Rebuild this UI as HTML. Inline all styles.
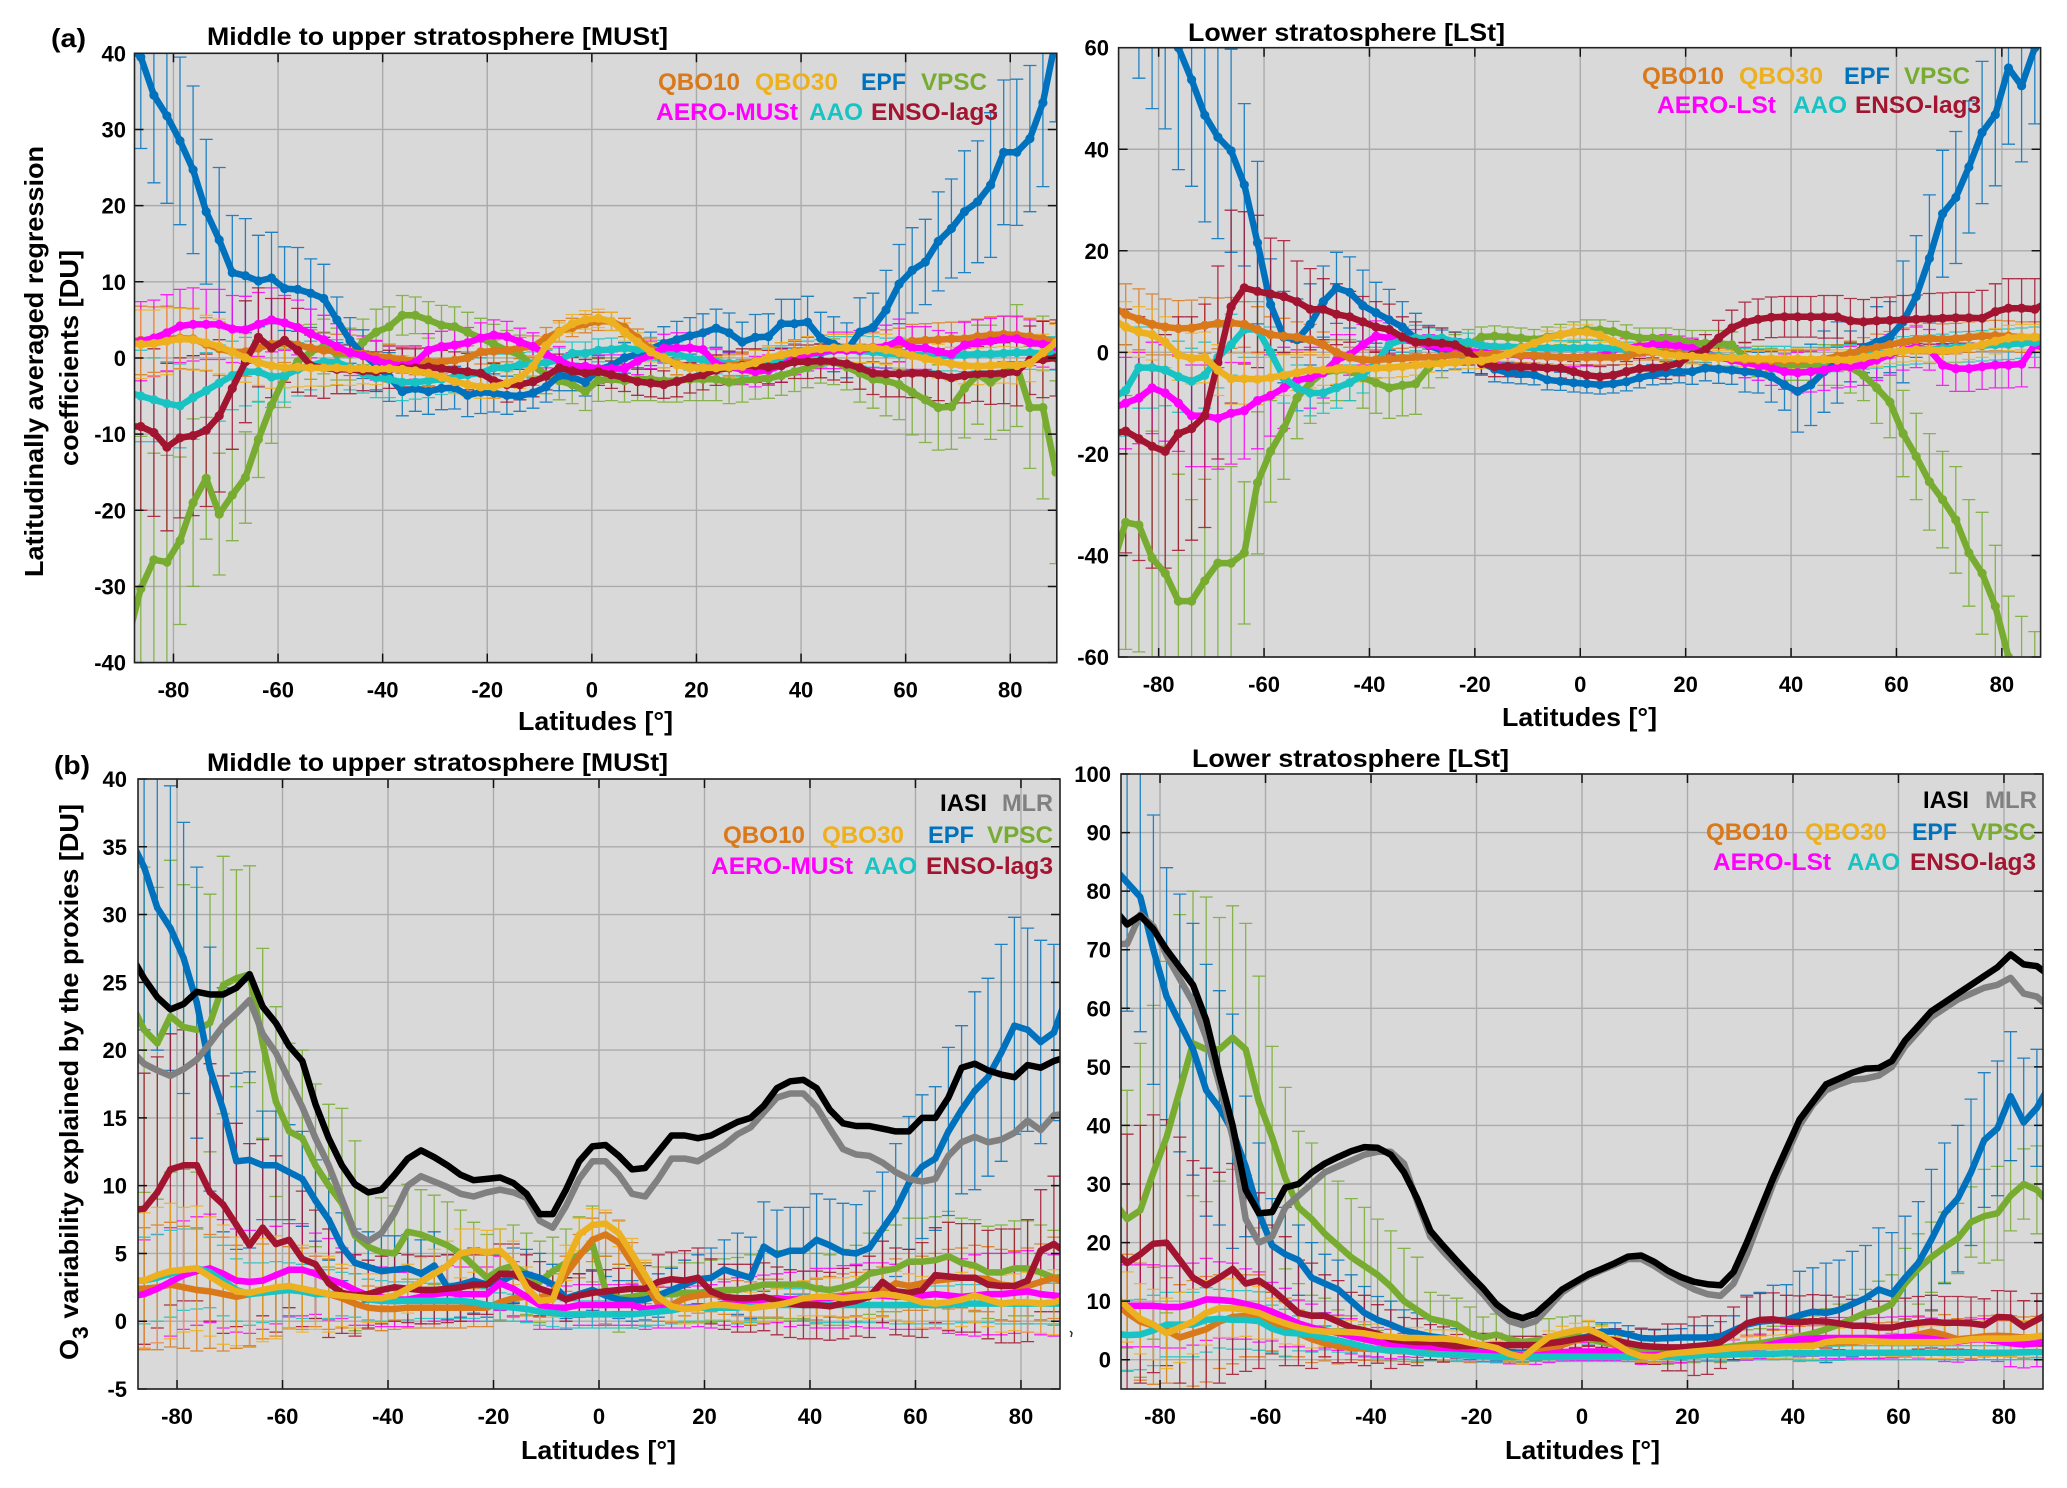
<!DOCTYPE html>
<html><head><meta charset="utf-8"><title>Ozone proxies</title>
<style>
html,body{margin:0;padding:0;background:#fff}
svg{display:block}
text{font-family:"Liberation Sans",Arial,sans-serif;font-weight:bold;fill:#000}
.tt{font-size:25px}.lb{font-size:26px}.lg{font-size:24px}.tk{font-size:22px}
</style></head><body>
<svg id="fig" xmlns="http://www.w3.org/2000/svg" width="2067" height="1488" viewBox="0 0 2067 1488">
<rect width="2067" height="1488" fill="#fff"/>
<g id="plots"></g>
<path d="M1070 1331l2 2l-1 4" fill="none" stroke="#333" stroke-width="1.5"/>
<g>
<text class="lb" x="51" y="47" textLength="35" lengthAdjust="spacingAndGlyphs">(a)</text>
<text class="lb" x="54" y="774" textLength="36" lengthAdjust="spacingAndGlyphs">(b)</text>
<text class="tt" x="207" y="45" textLength="461" lengthAdjust="spacingAndGlyphs">Middle to upper stratosphere [MUSt]</text>
<text class="tt" x="1188" y="41" textLength="317" lengthAdjust="spacingAndGlyphs">Lower stratosphere [LSt]</text>
<text class="tt" x="207" y="771" textLength="461" lengthAdjust="spacingAndGlyphs">Middle to upper stratosphere [MUSt]</text>
<text class="tt" x="1192" y="767" textLength="317" lengthAdjust="spacingAndGlyphs">Lower stratosphere [LSt]</text>
<text class="lb" x="518" y="730" textLength="155" lengthAdjust="spacingAndGlyphs">Latitudes [°]</text>
<text class="lb" x="1502" y="726" textLength="155" lengthAdjust="spacingAndGlyphs">Latitudes [°]</text>
<text class="lb" x="521" y="1459" textLength="155" lengthAdjust="spacingAndGlyphs">Latitudes [°]</text>
<text class="lb" x="1505" y="1459" textLength="155" lengthAdjust="spacingAndGlyphs">Latitudes [°]</text>
<text class="lb" transform="translate(43,577) rotate(-90)" textLength="431" lengthAdjust="spacingAndGlyphs">Latitudinally averaged regression</text>
<text class="lb" transform="translate(78,466) rotate(-90)" textLength="216" lengthAdjust="spacingAndGlyphs">coefficients [DU]</text>
<text class="lb" transform="translate(78,1360) rotate(-90)" textLength="556" lengthAdjust="spacingAndGlyphs">O<tspan dy="10" font-size="22">3</tspan><tspan dy="-10"> variability explained by the proxies [DU]</tspan></text>
</g>
<g>
<text class="lg" style="fill:#D9791A" x="658" y="90" textLength="82" lengthAdjust="spacingAndGlyphs">QBO10</text>
<text class="lg" style="fill:#EDB120" x="755" y="90" textLength="83" lengthAdjust="spacingAndGlyphs">QBO30</text>
<text class="lg" style="fill:#0072BD" x="861" y="90" textLength="45" lengthAdjust="spacingAndGlyphs">EPF</text>
<text class="lg" style="fill:#77AC30" x="921" y="90" textLength="66" lengthAdjust="spacingAndGlyphs">VPSC</text>
<text class="lg" style="fill:#FF00FF" x="656" y="120" textLength="142" lengthAdjust="spacingAndGlyphs">AERO-MUSt</text>
<text class="lg" style="fill:#17C3C3" x="809" y="120" textLength="54" lengthAdjust="spacingAndGlyphs">AAO</text>
<text class="lg" style="fill:#A2142F" x="871" y="120" textLength="127" lengthAdjust="spacingAndGlyphs">ENSO-lag3</text>
</g>
<g>
<text class="lg" style="fill:#D9791A" x="1642" y="84" textLength="82" lengthAdjust="spacingAndGlyphs">QBO10</text>
<text class="lg" style="fill:#EDB120" x="1739" y="84" textLength="84" lengthAdjust="spacingAndGlyphs">QBO30</text>
<text class="lg" style="fill:#0072BD" x="1844" y="84" textLength="46" lengthAdjust="spacingAndGlyphs">EPF</text>
<text class="lg" style="fill:#77AC30" x="1904" y="84" textLength="66" lengthAdjust="spacingAndGlyphs">VPSC</text>
<text class="lg" style="fill:#FF00FF" x="1657" y="113" textLength="119" lengthAdjust="spacingAndGlyphs">AERO-LSt</text>
<text class="lg" style="fill:#17C3C3" x="1793" y="113" textLength="54" lengthAdjust="spacingAndGlyphs">AAO</text>
<text class="lg" style="fill:#A2142F" x="1855" y="113" textLength="126" lengthAdjust="spacingAndGlyphs">ENSO-lag3</text>
</g>
<g>
<text class="lg" style="fill:#000" x="940" y="811" textLength="47" lengthAdjust="spacingAndGlyphs">IASI</text>
<text class="lg" style="fill:#808080" x="1002" y="811" textLength="51" lengthAdjust="spacingAndGlyphs">MLR</text>
<text class="lg" style="fill:#D9791A" x="723" y="843" textLength="82" lengthAdjust="spacingAndGlyphs">QBO10</text>
<text class="lg" style="fill:#EDB120" x="822" y="843" textLength="82" lengthAdjust="spacingAndGlyphs">QBO30</text>
<text class="lg" style="fill:#0072BD" x="928" y="843" textLength="46" lengthAdjust="spacingAndGlyphs">EPF</text>
<text class="lg" style="fill:#77AC30" x="987" y="843" textLength="66" lengthAdjust="spacingAndGlyphs">VPSC</text>
<text class="lg" style="fill:#FF00FF" x="711" y="874" textLength="142" lengthAdjust="spacingAndGlyphs">AERO-MUSt</text>
<text class="lg" style="fill:#17C3C3" x="864" y="874" textLength="53" lengthAdjust="spacingAndGlyphs">AAO</text>
<text class="lg" style="fill:#A2142F" x="926" y="874" textLength="127" lengthAdjust="spacingAndGlyphs">ENSO-lag3</text>
</g>
<g>
<text class="lg" style="fill:#000" x="1923" y="808" textLength="46" lengthAdjust="spacingAndGlyphs">IASI</text>
<text class="lg" style="fill:#808080" x="1985" y="808" textLength="52" lengthAdjust="spacingAndGlyphs">MLR</text>
<text class="lg" style="fill:#D9791A" x="1706" y="840" textLength="82" lengthAdjust="spacingAndGlyphs">QBO10</text>
<text class="lg" style="fill:#EDB120" x="1805" y="840" textLength="82" lengthAdjust="spacingAndGlyphs">QBO30</text>
<text class="lg" style="fill:#0072BD" x="1912" y="840" textLength="45" lengthAdjust="spacingAndGlyphs">EPF</text>
<text class="lg" style="fill:#77AC30" x="1971" y="840" textLength="65" lengthAdjust="spacingAndGlyphs">VPSC</text>
<text class="lg" style="fill:#FF00FF" x="1713" y="870" textLength="118" lengthAdjust="spacingAndGlyphs">AERO-LSt</text>
<text class="lg" style="fill:#17C3C3" x="1847" y="870" textLength="53" lengthAdjust="spacingAndGlyphs">AAO</text>
<text class="lg" style="fill:#A2142F" x="1910" y="870" textLength="126" lengthAdjust="spacingAndGlyphs">ENSO-lag3</text>
</g>
</svg>
<script>
// Band centres, 2.5 degree spacing (-88.75 ... 88.75): 72 bands per series.
const latitudes=[-88.75,-86.25,-83.75,-81.25,-78.75,-76.25,-73.75,-71.25,-68.75,-66.25,-63.75,-61.25,-58.75,-56.25,-53.75,-51.25,-48.75,-46.25,-43.75,-41.25,-38.75,-36.25,-33.75,-31.25,-28.75,-26.25,-23.75,-21.25,-18.75,-16.25,-13.75,-11.25,-8.75,-6.25,-3.75,-1.25,1.25,3.75,6.25,8.75,11.25,13.75,16.25,18.75,21.25,23.75,26.25,28.75,31.25,33.75,36.25,38.75,41.25,43.75,46.25,48.75,51.25,53.75,56.25,58.75,61.25,63.75,66.25,68.75,71.25,73.75,76.25,78.75,81.25,83.75,86.25,88.75];
const xTickLabels=[-80,-60,-40,-20,0,20,40,60,80];
const coefMuTicks=[-40,-30,-20,-10,0,10,20,30,40];
const coefLsTicks=[-60,-40,-20,0,20,40,60];
const varMuTicks=[-5,0,5,10,15,20,25,30,35,40];
const varLsTicks=[0,10,20,30,40,50,60,70,80,90,100];

// (a) left: regression coefficients, MUSt. The *Err arrays hold one half-width per pair of adjacent bands.
const coefMuEpf=[41,39.5,34.5,31.8,28.5,24.7, 19.2,15.5,11.2,10.8,10.1,10.5, 9.1,9,8.5,7.8,5,2.3, 0.5,-1,-2.5,-4.4,-4,-4.4, -4,-3.9,-4.9,-4.5,-4.6,-4.9, -5,-4.6,-3.8,-2.3,-2.5,-3.2, -1.5,-1,0,0.5,1.2,1.9, 2.4,2.9,3.3,3.9,3.3,2.1, 2.7,2.8,4.5,4.5,4.7,2.6, 1.8,1,3.4,4,6.3,9.7, 11.5,12.6,15.3,17,19.2,20.5, 22.7,27,27,28.8,33.5,42];
const coefMuEpfErr=[12,11.5,11,9.5,7.5,6,5.5,4.5,3,3.2,3.2,3,2.8,2.8,2.5,2,2,1.8,1.8,2,2.2,2.4,2.5,2.6,3,3.2,3.4,3.6,4.5,5.2,5.6,6.5,8,9.5,9.6,11];
const coefMuVpsc=[-37,-30.3,-26.5,-26.8,-24,-19, -15.8,-20.5,-18,-15.7,-10.7,-6.2, -2.5,-0.5,0.8,1.5,0.5,0.5, 2.1,3.4,4.1,5.6,5.6,5, 4.3,4.1,3.4,2.6,1.8,1, 0.4,-1,-2.2,-3,-3.5,-4.4, -2.9,-2.8,-3,-2.8,-2.8,-3, -3,-2.8,-2.8,-2.8,-3.2,-3, -2.8,-2.7,-2.3,-1.8,-1.3,-0.7, -0.5,-1.2,-2,-2.8,-3,-3.5, -4.5,-5.5,-6.5,-6.4,-4,-2.2, -3.2,-2,-1,-6.5,-6.5,-15];
const coefMuVpscErr=[20,14,11,8,6,5,4,3.6,3.4,3,2.6,2.4,2.6,2.6,2.6,2.6,2.5,2.5,2.8,2.8,2.8,2.8,2.8,2.8,2.6,2.6,2.6,3,3.8,4.6,5.6,5.6,6.5,7.5,8,12];
const coefMuAero=[2,2.2,2.6,3.3,4.2,4.4, 4.4,4.4,3.8,3.7,4.4,5, 4.6,4,3.2,2.4,1.5,0.7, 0.3,-0.3,-0.8,-1,-0.6,1, 1.5,1.7,2,2.6,3,2.8, 2.1,1.5,0.5,-0.3,-1.1,-1.1, -1.4,-1.4,-1.4,-0.4,0.4,1.3, 1.3,1.3,1.1,-0.8,-1.2,-1.5, -1.8,-1.6,-1,0,0.5,0.8, 1,1,1,1.3,1.5,2.3, 1.3,1.3,0.8,0.5,1.7,2, 2.2,2.5,2.5,2,1.8,1.5];
const coefMuAeroErr=[5.2,5,4.8,4.6,4.4,4.2,3.6,3.2,3,2.6,2.4,2.2,2,2,2,1.8,1.8,1.8,1.8,1.8,1.8,2,2,2,2,2.2,2.2,2.4,2.6,2.8,2.8,2.8,3,3,3,3];
const coefMuAao=[-4.5,-5,-5.5,-6,-6.3,-5.2, -4.3,-3.3,-2.3,-1.8,-1.8,-2.5, -2.3,-1.5,-1,-0.5,-0.6,-1.2, -2,-2.6,-2.8,-3.2,-3.2,-3, -2.8,-2.5,-2.2,-2,-1.3,-1.3, -0.9,-0.8,-0.6,-0.3,0.6,0.6, 1,1.1,1.3,1.1,1.2,0.8, 0.5,0,-0.3,-0.5,-0.7,-0.8, -0.8,-0.5,-0.2,0.1,0.4,0.6, 1,1,0.9,0.8,0.6,0.5, 0.4,0.4,0.3,0.3,0.4,0.5, 0.5,0.6,0.7,0.7,0.6,0.6];
const coefMuAaoErr=[6,5.5,5.5,5,4.5,4,3.5,3.2,3,2.6,2.4,2.2,2,2,1.8,1.6,1.6,1.5,1.5,1.5,1.5,1.6,1.6,1.6,1.8,1.8,1.8,1.8,2,2,2,2,2.2,2.2,2.2,2.2];
const coefMuEnso=[-9,-9,-9.8,-11.7,-10.5,-10.2, -9.5,-7.6,-4,-0.5,2.7,1.3, 2.3,1,-1,-1.3,-1.5,-1.5, -1.7,-1.8,-1.5,-1.3,-1.3,-1.2, -1.4,-1.6,-1.8,-2,-3,-3.5, -3.5,-3.1,-2.4,-1.3,-1.7,-2, -1.8,-2.2,-2.6,-3.1,-3.3,-3.5, -3.1,-2.6,-2.2,-1.6,-1.3,-1, -1,-1.2,-1,-0.5,-0.5,-0.4, -0.5,-0.8,-1.3,-2,-2.1,-2.1, -2,-2,-2.2,-2.6,-2.3,-2.1, -2.1,-2,-1.8,-0.3,-0.2,0];
const coefMuEnsoErr=[11,11,10.5,10,8,6.5,5.5,4,3.2,2.6,2.5,2.5,2.4,2.4,2.3,2,1.8,1.8,1.8,1.8,1.8,2,2,2.2,2.2,2.2,2.2,2.4,2.8,3,3.2,3.4,3.6,4,4.5,5];
const coefMuQbo10=[2.2,2.3,2.4,2.5,2.6,2.5, 1.8,1.2,0.8,0.8,1.3,1.8, 2,1.7,1.3,1,0.9,0.8, 0.5,0.2,0,-0.2,-0.4,-0.5, -0.5,-0.3,0,0.8,0.9,1, 1.3,1.5,2.6,3.5,4,4.5, 4.8,4.8,4,2.6,1.2,0, -0.8,-1.2,-1.3,-1.2,-1,-0.8, -0.5,0,0.4,0.8,1,1.2, 1.3,1.3,1.3,1.4,1.5,1.7, 2.2,2.3,2.4,2.5,2.5,2.8, 3,3.1,3,2.8,2.5,2.2];
const coefMuQbo10Err=[4.5,4.3,4,3.5,3.2,3,2.6,2.4,2.2,2,1.8,1.8,1.6,1.6,1.5,1.4,1.4,1.2,1.2,1.2,1.3,1.4,1.5,1.5,1.6,1.6,1.8,1.8,2,2.2,2.2,2.2,2.3,2.4,2.4,2.4];
const coefMuQbo30=[2,1.8,1.9,2.2,2.5,2.4, 2,1.5,0.8,0,-0.6,-1, -1.3,-1.2,-1.3,-1.3,-1.3,-1.4, -1.4,-1.5,-1.4,-1.5,-1.7,-2, -2.5,-3.1,-3.5,-3.8,-3.8,-3.3, -2.6,-1.1,1.6,3.4,4.5,5, 5.2,4.8,3.4,2.1,0.8,0, -0.9,-1.3,-1.3,-1.3,-1.2,-1.1, -0.6,0,0.4,0.7,1,1.2, 1.3,1.3,1.3,1.3,1.1,0.7, 0.3,-0.1,-0.4,-0.8,-1,-1.1, -1,-0.9,-1,-0.7,0.7,2];
const coefMuQbo30Err=[4.5,4.4,4,3.6,3.2,3,2.6,2.4,2.2,2,1.8,1.8,1.6,1.5,1.5,1.4,1.2,1.2,1.2,1.2,1.3,1.4,1.5,1.5,1.6,1.6,1.8,1.8,1.9,2,2.2,2.2,2.4,2.4,2.4,2.4];

// (a) right: regression coefficients, LSt
const coefLsEpf=[95,85,78,72,68,60, 53.7,46.7,42.4,39.7,33,21.6, 9.4,3,2.5,5.5,10,12.7, 11.8,9.2,7.8,6.4,5,2.7, 1.3,0.4,-0.3,-1,-2,-3.3, -4,-4.2,-4.4,-5.4,-5.7,-6, -6.2,-6.4,-6.2,-5.8,-5,-4.4, -4,-3.8,-3.8,-3.1,-3.3,-3.5, -3.8,-4,-4.8,-6.4,-7.7,-6.4, -3.8,-2,-0.8,1,2,3, 6,11,18.5,27.3,30.5,36.5, 43.3,46.8,56,52.5,60,65];
const coefLsEpfErr=[25,24,24,21,20,16,9,8,7,7,6,5,4,3,2.5,2,2,1.8,1.8,1.8,2,2.2,2.5,2.8,4,5,8,8,5,7,12,12.5,13,14,15,15];
const coefLsVpsc=[-42,-33.5,-34,-40.5,-43.5,-49, -49,-45,-41.5,-41.5,-39.5,-25.7, -19.5,-15,-9,-6,-4,-3.5, -3.5,-5,-6,-7,-6.5,-6.2, -3,-1,0.5,1.5,3,3.2, 3,2.8,2.5,3,3.5,4, 4.4,4.4,4.1,3.4,2.8,2.8, 2.8,2.5,1.8,1.8,1.8,1.5, -1,-1.8,-2.2,-2.5,-2.5,-2.5, -2.5,-2.5,-3,-4.5,-7,-9.8, -16,-20.5,-25.5,-29,-33,-39.5, -43.5,-50,-60,-64,-70,-75];
const coefLsVpscErr=[25,25,25,20,19,14,10,8,6,6,6,6,4,3,2,2,2,2,2,2,2,2,2.5,2.5,3,3,3,4,5,7,8.5,9.5,10.5,12,12,15];
const coefLsAero=[-11,-10,-9,-7,-8,-10, -12.5,-12.5,-13,-12,-11.5,-9.5, -8.5,-7,-5.5,-5,-4,-1.5, -0.5,1.5,3.2,2.8,2.5,2, 1.5,1,0.5,0.2,0,-0.2, -0.4,-0.6,-0.7,-0.8,-1,-1, -0.9,-0.8,0.5,1,1.1,1.5, 1.5,1.2,0.8,0,-1,-1.5, -2,-2.5,-3,-3.8,-4,-3.8, -3.5,-3,-2.8,-2.5,-1.5,-0.5, 0.5,1,0.5,-2.5,-3.2,-3.2, -2.8,-2.5,-2.5,-2.3,1.5,0.5];
const coefLsAeroErr=[9,9,9.5,10,10,9.5,8,6,5,4,3,2.5,2,2,1.8,1.8,1.8,1.8,1.8,1.8,1.8,2,2,2.5,3,3.5,4,4,4,4,4,4,4.5,4.5,4.5,4.5];
const coefLsAao=[-9,-7.5,-3,-3,-3.5,-4.8, -5.7,-4.5,-1,1.5,4.5,4.5, 0,-5,-7,-8,-8,-7, -6,-4.5,-2,1.5,2.5,2.8, 2.8,2.8,2.1,2,1.4,1.1, 1.1,1,0.9,0.8,0.8,0.8, 0.9,0.9,0.8,0.5,0.3,0.1, 0,-0.2,-0.4,-0.5,-0.8,-1, -1.2,-1.3,-1.3,-1.3,-1.5,-1.5, -1.5,-1.3,-1,-0.8,-0.3,0, 0.3,0.5,0.6,0.8,1,1.1, 1.3,1.5,1.6,1.8,2,2];
const coefLsAaoErr=[9,8,7,6.5,6,5.5,5,4.5,4,3.5,3,2.5,2,1.8,1.5,1.5,1.5,1.5,1.5,1.5,1.5,1.5,1.5,1.8,2,2.5,2.5,2.5,2.5,2.8,2.8,2.8,3,3,3,3];
const coefLsEnso=[-16,-15.5,-17,-18.5,-19.5,-16, -15,-12.5,-2,9,12.7,12, 11.5,11,10,8.5,8.5,7.5, 7,6,5,4.5,3,2, 2,1.8,1.5,0,-2.2,-2.8, -2.8,-2.9,-2.9,-3.1,-3.1,-3.8, -4.5,-4.8,-4.5,-3.8,-3.2,-3.1, -2.8,-2.1,-0.5,0.5,2.8,4.8, 5.9,6.5,6.9,7,7,7, 7,7,6.2,6,6.2,6.3, 6.4,6.5,6.6,6.7,6.8,6.8, 6.7,8,8.7,8.7,8.5,10];
const coefLsEnsoErr=[24,24,23,22,19,15,11,8,6,5,5,4,3,2.5,2,2,2,2,2,2,2,2.5,3,3.5,4,4,4,4.2,4.4,4.6,4.8,5,5,5.5,5.8,6];
const coefLsQbo10=[9,7.5,6.5,5.5,5,4.7, 4.8,5.3,5.7,5.8,5.5,4.5, 3.5,3.2,3,2.5,1.5,0, -1,-1.5,-1.5,-1.3,-1.2,-1, -1,-0.8,-0.5,-0.5,-0.4,-0.3, -0.3,-0.5,-0.6,-0.8,-1,-1, -1,-1,-1,-0.9,0,0, 0,-0.3,-0.5,-0.8,-1,-1.2, -1.4,-1.5,-1.6,-1.6,-1.6,-1.5, -1.3,-0.8,-0.2,0.5,1,1.5, 2,2.5,2.7,2.6,2.7,3, 3.2,3.3,3.2,3,3,3];
const coefLsQbo10Err=[6,6,5.5,5.5,5,4.5,3.5,3,2.5,2,2,2,1.6,1.6,1.5,1.5,1.5,1.5,1.5,1.5,1.5,1.5,1.6,1.8,1.8,2,2,2.2,2.4,2.6,2.8,3,3,3,3,3];
const coefLsQbo30=[6.5,5,4,3.5,2,-0.5, -1.2,-1,-3.5,-5.2,-5.2,-5.3, -5,-4.5,-4,-3.5,-3.5,-3.3, -3.3,-3.3,-3.1,-3,-2.8,-2.5, -2.3,-2.2,-2,-1.7,-1.7,-1.2, -0.3,0.8,1.8,2.8,3.5,4, 4,3.4,2.1,1.1,0.5,0.2, -0.5,-0.7,-0.8,-1,-1.1,-1.1, -1.2,-1.3,-1.3,-1.3,-1.3,-1.4, -1.4,-1.5,-1.5,-1,-0.5,0, 0.3,0.5,0.5,0.3,0.5,1, 1.5,2.2,2.8,3,3,2.8];
const coefLsQbo30Err=[5,5,5,5,5,5,4,3.5,3,2.5,2,2,1.6,1.5,1.5,1.5,1.4,1.4,1.4,1.5,1.5,1.5,1.5,1.5,1.6,1.8,2,2,2,2.2,2.2,2.4,2.4,2.5,2.5,2.5];

// (b) left: explained variability, MUSt
const varMuEpf=[35.5,33.5,30.5,29,26.8,23.5, 18.6,15.6,11.8,11.9,11.5,11.5, 11,10.5,8.9,7.5,5.5,4.3, 4,3.7,3.8,3.9,3.5,4.1, 2.5,2.7,3,2.7,2.9,3.4, 3.5,3.2,2.7,1.7,2,2.3, 1.9,1.6,1.5,1.6,1.9,2.3, 2.7,3.1,3.2,3.8,3.5,3.2, 5.5,4.9,5.2,5.2,6,5.6, 5.1,5,5.4,6.8,8.2,10.2, 11.4,12,14,15.6,17,18, 19.8,21.8,21.5,20.6,21.3,24];
const varMuEpfErr=[12,10.5,10,9,6.5,4,3.5,3,2.5,2.6,2.5,2.5,2.4,2.4,2,1.8,1.5,1.5,1.4,1.5,1.6,1.8,2.2,3,3.3,3.2,3.4,3.6,4.2,4.9,5.3,6.2,7.3,8,7.5,6.5];
const varMuVpsc=[23.5,21.5,20.5,22.5,21.7,21.5, 22,24.8,25.3,25.6,20.5,16.2, 14,13.5,11.5,10,8.7,6.3, 5.5,5.1,5,6.6,6.4,6, 5.6,5,4.1,3.2,3.8,4.1, 3.5,2.9,3.7,4.3,4.9,5.7, 2.3,1.7,1.8,2,2,2, 2.1,2.1,2.2,2.3,2.3,2.5, 2.7,2.7,2.7,2.7,2.4,2.3, 2.5,2.8,3.5,3.7,3.9,4.4, 4.4,4.5,4.8,4.3,4.1,3.6, 3.6,3.9,3.9,3.6,3.2,3.3];
const varMuVpscErr=[12,11.5,10.5,9.5,8,7,6.5,6,7,4,3.5,3.3,3.2,3.2,3,3,2.5,2.8,2.5,2.3,2,2.2,2.3,2.4,2.5,2.5,2.6,2.8,3,3.2,3.2,3.3,3.4,3.5,3.5,3.5];
const varMuAero=[1.8,2,2.4,2.9,3.4,3.7, 3.9,3.5,3,2.9,3,3.4, 3.8,3.8,3.5,3.1,2.8,2.3, 1.9,1.8,1.6,1.6,1.8,2, 2.1,2,2,2,2.8,2.4, 1.8,1.2,1,1,1.2,1.2, 1.2,1.2,1.2,0.9,1,1, 1,1.1,1.1,1.3,1.4,1.5, 1.6,1.7,1.6,1.7,1.7,1.7, 1.8,1.9,1.9,1.9,1.8,1.8, 1.9,2,1.9,1.8,1.9,2, 2,2.1,2.2,2,1.9,1.8];
const varMuAeroErr=[4,4,4,4,3.8,3.6,3.4,3,2.6,2.2,2,2,2,2,2,1.8,1.6,1.5,1.5,1.5,1.5,1.5,1.6,1.8,1.8,2,2.2,2.3,2.4,2.4,2.5,2.8,3,3,3,3];
const varMuAao=[3,3,3.2,3.5,3.8,3.9, 3.6,3,2.3,2,2.1,2.2, 2.3,2.2,2,2,2,1.9, 1.6,1.5,1.5,1.5,1.5,1.5, 1.5,1.5,1.4,1.2,1.1,1, 0.9,0.7,0.6,0.5,0.5,0.5, 0.5,0.5,0.5,0.6,0.7,0.8, 1,1,1,1,1,1.1, 1.1,1.2,1.2,1.2,1.2,1.2, 1.2,1.2,1.2,1.2,1.2,1.2, 1.2,1.2,1.2,1.3,1.3,1.3, 1.3,1.3,1.3,1.3,1.3,1.3];
const varMuAaoErr=[3.2,3.2,3,2.6,2.3,2.2,2,1.8,1.6,1.5,1.4,1.3,1.3,1.2,1,1,1,1,1,1,1,1,1,1.2,1.2,1.2,1.3,1.3,1.3,1.4,1.4,1.4,1.4,1.5,1.5,1.5];
const varMuEnso=[8.2,8.3,9.5,11.2,11.5,11.5, 9.5,8.6,7.1,5.6,6.9,5.7, 6,4.6,4.2,2.8,2.1,1.9, 2,2.3,2.5,2.4,2.3,2.3, 2.4,2.5,2.7,2.7,3.5,3.5, 2.9,2.4,2.1,1.6,1.9,2.1, 2.2,2.3,2.4,2.4,2.9,3.1, 3,3.2,2.2,1.8,1.7,1.7, 1.8,1.5,1.3,1.2,1.2,1.1, 1.3,1.5,1.8,2.9,2.2,2.1, 2.3,3.4,3.3,3.2,3.2,2.7, 2.6,2.6,3,5.2,5.7,5];
const varMuEnsoErr=[10,10,10,9.5,7.5,6.5,5,4,3,2.5,2.5,2.5,2.5,2.2,2.2,2,1.6,1.6,1.6,1.7,2,2.2,2.4,2.5,2.5,2.5,2.5,2.6,3,3.2,3.5,4,4,4.2,4.5,5];
const varMuQbo10=[2.4,2.4,2.5,2.7,2.5,2.3, 2.2,2,1.8,2,2.2,2.4, 2.5,2.4,2.2,2,1.7,1.3, 1,0.9,0.9,1,1,1, 1,1,1,1,1.4,1.7, 1.8,1.7,2.2,3.5,4.8,6, 6.4,5.8,4.3,2.8,1.3,1.2, 1.7,1.9,2,1.8,1.7,1.6, 1.7,1.7,1.4,1.5,1.6,1.8, 1.9,2,2,2.2,2.8,2.6, 2.8,3,3.1,3.2,3.2,3.1, 2.7,2.6,2.6,2.9,3.2,2.7];
const varMuQbo10Err=[4.5,4.6,4.5,4.2,3.8,3.5,3,2.6,2.2,1.6,1.5,1.5,1.5,1.4,1.4,1.4,1.3,1.6,1.6,1.5,1.3,1.3,1.3,1.3,1.4,1.4,1.5,1.6,1.8,1.8,2,2.2,2.4,2.6,2.8,3];
const varMuQbo30=[3,3,3.4,3.7,3.8,3.9, 3.3,2.7,2.2,2.1,2.3,2.5, 2.6,2.4,2.2,2,1.9,1.8, 1.7,1.7,1.9,2.4,2.9,3.5, 4.1,5,5.2,5.1,5.2,4.3, 2.5,1.5,1.6,4.3,6.4,7.1, 7.2,6.5,5,3.4,1.8,1.1, 0.9,0.95,1.2,1.2,1.1,0.95, 1.1,1.2,1.4,1.7,1.8,1.8, 1.7,1.8,1.9,2,1.9,1.7, 1.4,1.3,1.4,1.6,1.9,1.6, 1.3,1.4,1.4,1.3,1.4,1.7];
const varMuQbo30Err=[5,5,4.6,4.4,4,3.8,3.2,2.8,2.3,1.8,1.8,1.8,1.8,1.6,1.6,1.5,1.3,1.2,1,1.1,1.1,1.1,1.1,1.2,1.2,1.3,1.4,1.5,1.7,1.8,1.9,2,2,2.1,2.2,2.4];
const varMuIasi=[27,25.3,23.9,23,23.4,24.3, 24.1,24.1,24.6,25.6,23.2,22, 20.3,19.2,16,13.5,11.5,10.1, 9.5,9.7,10.8,12,12.6,12.1, 11.5,10.8,10.4,10.5,10.6,10.2, 9.4,7.9,7.9,9.7,11.8,12.9, 13,12.2,11.2,11.3,12.5,13.7, 13.7,13.5,13.7,14.2,14.7,15, 15.9,17.2,17.7,17.8,17.2,15.6, 14.6,14.4,14.4,14.2,14,14, 15,15,16.5,18.7,19,18.5, 18.2,18,18.9,18.7,19.2,19.5];
const varMuMlr=[20,19,18.5,18.1,18.6,19.3, 20.5,21.8,22.7,23.7,21.2,19.8, 17.8,15.8,13.5,11.5,9,6.5, 5.9,6.5,8,10,10.7,10.3, 9.9,9.4,9.2,9.5,9.7,9.5, 9.1,7.4,6.9,8.5,10.5,11.8, 11.8,10.8,9.4,9.2,10.5,12, 12,11.8,12.4,13,13.8,14.3, 15.4,16.5,16.8,16.8,15.8,14.2, 12.7,12.3,12.2,11.7,11,10.5, 10.3,10.5,12.2,13.2,13.6,13.2, 13.4,13.9,14.8,14.1,15.2,15.3];

// (b) right: explained variability, LSt
const varLsEpf=[84,81.5,79,70,62,57.5, 53,46,43,39,33,25, 19.5,18,17,14,13,12, 10,8,6.8,6,5,4.5, 4,3.7,3.3,2.8,2.3,1.8, 1.3,1.2,1.5,2,2.8,3.5, 4,4.8,4.8,4.3,3.7,3.6, 3.7,3.8,3.8,3.8,4,5, 6,6.5,6.7,6.8,7.6,8.2, 8,8.5,9.5,10.5,12,11.2, 14,16.5,20.5,25,27.5,32, 37.5,39.5,45,40.5,43,47];
const varLsEpfErr=[22,23,22,21.5,20,12,8,6,5,4.5,4,3.5,3,2,2,1.5,1.5,1.5,1.5,1.5,1.5,1.5,2,2.5,5,6,7.5,8.5,9,10.5,10.5,12,12.5,11.5,11,10];
const varLsVpsc=[27,24,25.5,32,38,46, 54,53,53,55,53,44, 38,31,26,24,21.5,19.5, 17.5,16,14.5,12.5,10,8.5, 7,6.5,6,4.5,3.8,4.3, 3.5,3,3.3,3.5,3.8,4, 3.5,3,2.5,2,1.5,1.2, 1.2,1.4,1.5,1.7,2,2.3, 2.6,2.8,3.2,3.5,4,4.5, 5.2,6,7,8,8.4,9.5, 13,15.5,17.5,19.2,20.7,23.5, 24.5,25,28,30,29,26.5];
const varLsVpscErr=[22,28.5,30,26,22.5,21.5,15.5,13,11,10,9.5,9,4.5,4.5,3.5,3.5,3.5,3.5,3,2,2,2,2,2.5,2.5,2.5,3,3.5,4,5,6,6,6,8,6,7.5];
const varLsAero=[9.5,9.2,9.2,9.2,9,9, 9.5,10.3,10.2,10,9.5,9, 8.2,7.2,6.2,5.5,5,4.6, 4,3.5,3,2.7,2.5,2.4, 2.2,2,1.8,1.5,1.2,1, 0.8,0.7,0.7,1,1.3,1.4, 1.4,1.4,1.4,1.2,0.7,0.8, 0.9,1,1.2,1.3,1.5,1.6, 1.9,2.2,2.7,3.2,3.5,3.6, 3.7,3.7,3.7,3.7,3.7,3.8, 3.9,3.8,3.6,3.2,3.1,3.4, 3.5,3.2,2.8,2.6,2.8,3.3];
const varLsAeroErr=[7,7,7,7,6.5,6,5,4,3,3,2.5,2,1.5,1.5,1.5,1.5,1.5,1.5,1.5,1.5,1.5,1.5,1.5,1.8,2,2.5,3,3.5,3.5,3.5,3.5,3.5,3.5,3.5,4,4];
const varLsAao=[4.5,4.2,4.3,5,6,6, 6,6.8,7,6.8,6.8,6.6, 5.3,4.6,4.5,4.3,3.7,3.3, 2.8,2.2,1.8,1.5,1.5,1.2, 1,0.9,0.8,0.7,0.6,0.5, 0.5,0.5,0.5,0.5,0.5,0.5, 0.5,0.5,0.5,0.5,0.5,0.5, 0.5,0.6,0.7,0.8,0.8,0.9, 1,1,1,1.1,1.1,1.1, 1.1,1.1,1.2,1.2,1.2,1.2, 1.2,1.2,1.2,1.2,1.2,1.2, 1.2,1.2,1.2,1.3,1.3,1.3];
const varLsAaoErr=[6,6,5.5,5.5,5,5,4,3,2,1.5,1.5,1.4,1.2,1,1,0.8,0.8,0.8,0.8,0.8,0.8,0.8,1,1,1,1,1.2,1.2,1.2,1.2,1.2,1.2,1.2,1.2,1.2,1.2];
const varLsEnso=[18.5,16.5,18,19.8,20,17, 14,12.7,14,15.5,13,13.5, 12,10,8,7.5,7.5,6.5, 5.5,5,4.4,3.5,3.2,3, 3,2.6,2.3,2.4,2.5,2.5, 2.5,2.5,2.5,2.8,3.1,3.5, 3.8,3.6,3.3,2.8,2.4,2.2, 2.1,2.1,2.3,2.5,3,4.5, 6.2,6.8,6.9,6.5,6.4,6.6, 6.5,6.2,5.8,5.8,5.5,5.5, 6,6.3,6.5,6.3,6.3,6.2, 5.9,7.3,7.2,5.6,6.8,8];
const varLsEnsoErr=[22,22,21,20,18,15,11,9,7,6,5,4,3,2,2,1.5,1.5,1.5,1.5,2,3,4,5,4.5,4.5,4.5,4.5,4.5,4.5,4.5,4.5,4.5,4.5,4.5,4.5,4.5];
const varLsQbo10=[10,8,6.5,5.8,5,3.8, 4.5,5.2,6.5,7.3,7.5,7.5, 6.5,5.5,4.5,3.5,2.8,2.3, 2,1.9,1.8,1.8,1.7,1.6, 1.5,1.3,1.2,1,0.9,0.8, 0.8,0.9,1.2,1.8,2.5,3.3, 3.8,3.5,2.5,1.5,0.8,0.6, 0.7,1,1.4,1.6,1.8,2, 2.2,2.4,2.5,2.6,2.7,2.8, 2.8,3,3,3.2,3.3,3.4, 3.7,4.3,4.8,4.2,3.5,3.7, 4,4.1,4,3.8,3.9,4.2];
const varLsQbo10Err=[10,10,9,9,8,7,5,4,3,2,2,2,1.5,1.5,1.2,1.2,1,1.2,1.5,1.2,1,1,1.2,1.5,2,2.5,3,3,3,3,3.2,3.5,3.5,3.5,3.5,3.5];
const varLsQbo30=[11,9,7,6,4.5,5.5, 6.5,8,8.8,8.8,8.5,8, 7,6.2,5.5,5,4.8,4.8, 4.7,4.5,4.1,3.9,3.7,3.7, 3.6,3.6,3.4,2.9,2.5,2, 1,0.4,2.2,3.9,4.5,5, 5.2,4.2,2.8,1.4,0.6,0.4, 1,1.2,1.4,1.6,1.8,2, 2.1,2.2,2.2,2.3,2.3,2.3, 3,3.2,3.2,3.2,3.1,3, 3,3,3,3,3.2,3.5, 3.6,3.6,3.6,3.7,4,4.3];
const varLsQbo30Err=[6,6,6,5.5,5,4.5,3.5,3,2.5,2,2,1.8,1.5,1.5,1.2,1.2,1,1.2,1.5,1.2,1,1,1.2,1.5,1.8,2,2.2,2.2,2.4,2.4,2.6,2.8,2.8,3,3,3];
const varLsIasi=[77,74.3,75.8,73.5,70,67, 64,58,48.7,40,29,25, 25.2,29.4,30,32,33.5,34.6, 35.6,36.3,36.2,35,32,27.5, 22,19.4,16.9,14.5,12.2,9.5, 7.8,7.1,7.9,9.9,12,13.3, 14.6,15.5,16.5,17.6,17.8,16.7, 15.2,14.1,13.3,12.9,12.7,15, 20,25.5,31,36,41,44, 47,48,49,49.7,49.8,51, 54.5,57,59.5,61,62.5,64, 65.5,67,69.2,67.5,67.2,65.5];
const varLsMlr=[71,71,76,74,69,65, 61,55,47,38,24,20, 21,26,28,30,32,33, 34,35,35.5,35.5,33.5,27, 21,18.4,16,13.6,11.2,8.5, 6.6,5.9,6.6,9,11.5,13, 14.3,15.3,16.2,17.2,17.2,16, 14.5,13.2,12,11.2,10.9,13, 18,24,30,35,40,43.5, 46,47,47.8,48,48.5,50, 53.5,56,58.5,60,61.5,62.5, 63.5,64,65.2,62.5,62,60];

const colors={vpsc:'#77AC30',epf:'#0072BD',aao:'#17C3C3',qbo10:'#D9791A',aero:'#FF00FF',enso:'#A2142F',qbo30:'#EDB120',mlr:'#808080',iasi:'#000000'};
const panels=[
 {id:'coef-must',left:134.5,right:1056.8,top:53.3,bottom:662.6,xMin:-87.45,xMax:88.9,yMin:-40,yMax:40,yTicks:coefMuTicks,tickRight:126,xTickBase:697.5,dot:4.6,lw:6.5,
  series:[['vpsc',coefMuVpsc,coefMuVpscErr],['epf',coefMuEpf,coefMuEpfErr],['aao',coefMuAao,coefMuAaoErr],['qbo10',coefMuQbo10,coefMuQbo10Err],['aero',coefMuAero,coefMuAeroErr],['enso',coefMuEnso,coefMuEnsoErr],['qbo30',coefMuQbo30,coefMuQbo30Err]]},
 {id:'coef-lst',left:1118.6,right:2040.6,top:47.7,bottom:657,xMin:-87.6,xMax:87.35,yMin:-60,yMax:60,yTicks:coefLsTicks,tickRight:1109,xTickBase:692,dot:4.6,lw:6.5,
  series:[['vpsc',coefLsVpsc,coefLsVpscErr],['epf',coefLsEpf,coefLsEpfErr],['aero',coefLsAero,coefLsAeroErr],['aao',coefLsAao,coefLsAaoErr],['qbo10',coefLsQbo10,coefLsQbo10Err],['enso',coefLsEnso,coefLsEnsoErr],['qbo30',coefLsQbo30,coefLsQbo30Err]]},
 {id:'var-must',left:138,right:1060,top:779,bottom:1389,xMin:-87.4,xMax:87.4,yMin:-5,yMax:40,yTicks:varMuTicks,tickRight:127,xTickBase:1424,dot:3.3,lw:6.5,
  series:[['vpsc',varMuVpsc,varMuVpscErr],['epf',varMuEpf,varMuEpfErr],['qbo10',varMuQbo10,varMuQbo10Err],['aero',varMuAero,varMuAeroErr],['aao',varMuAao,varMuAaoErr],['enso',varMuEnso,varMuEnsoErr],['qbo30',varMuQbo30,varMuQbo30Err],['mlr',varMuMlr,null],['iasi',varMuIasi,null]]},
 {id:'var-lst',left:1121,right:2043,top:774,bottom:1389,xMin:-87.4,xMax:87.4,yMin:-5,yMax:100,yTicks:varLsTicks,tickRight:1111,xTickBase:1424,dot:0,lw:6.5,
  series:[['vpsc',varLsVpsc,varLsVpscErr],['epf',varLsEpf,varLsEpfErr],['qbo10',varLsQbo10,varLsQbo10Err],['aero',varLsAero,varLsAeroErr],['aao',varLsAao,varLsAaoErr],['enso',varLsEnso,varLsEnsoErr],['qbo30',varLsQbo30,varLsQbo30Err],['mlr',varLsMlr,null],['iasi',varLsIasi,null]]}
];
const NS='http://www.w3.org/2000/svg';
const root=document.getElementById('plots');
const defs=document.createElementNS(NS,'defs');
root.appendChild(defs);
function make(tag,parent){const e=document.createElementNS(NS,tag);parent.appendChild(e);return e;}
panels.forEach(function(p){
  const xs=function(v){return p.left+(v-p.xMin)/(p.xMax-p.xMin)*(p.right-p.left);};
  const ys=function(v){return p.bottom-(v-p.yMin)/(p.yMax-p.yMin)*(p.bottom-p.top);};
  const g=make('g',root);
  
  
  const clip=make('clipPath',defs);
  clip.setAttribute('id','clip-'+p.id);
  const cr=make('rect',clip);
  cr.setAttribute('x',p.left);cr.setAttribute('y',p.top);cr.setAttribute('width',p.right-p.left);cr.setAttribute('height',p.bottom-p.top);
  const bg=make('rect',g);
  
  
  bg.setAttribute('x',p.left);bg.setAttribute('y',p.top);bg.setAttribute('width',p.right-p.left);bg.setAttribute('height',p.bottom-p.top);bg.setAttribute('fill','#d9d9d9');
  let gridD='',tickD='';
  xTickLabels.forEach(function(t){
    const x=xs(t);
    gridD+='M'+x+' '+p.top+'V'+p.bottom;
    tickD+='M'+x+' '+p.top+'v9M'+x+' '+p.bottom+'v-9';
    const tx=make('text',g);
    
    
    tx.setAttribute('class','tk');tx.setAttribute('x',x);tx.setAttribute('y',p.xTickBase);tx.setAttribute('text-anchor','middle');
    tx.textContent=t;
  });
  p.yTicks.forEach(function(t){
    const y=ys(t);
    gridD+='M'+p.left+' '+y+'H'+p.right;
    tickD+='M'+p.left+' '+y+'h9M'+p.right+' '+y+'h-9';
    const tx=make('text',g);
    
    
    tx.setAttribute('class','tk');tx.setAttribute('x',p.tickRight);tx.setAttribute('y',y+8);tx.setAttribute('text-anchor','end');
    tx.textContent=t;
  });
  const grid=make('path',g);
  
  
  grid.setAttribute('d',gridD);grid.setAttribute('stroke','#ababab');grid.setAttribute('stroke-width','1.4');grid.setAttribute('fill','none');
  const clipG=make('g',g);
  clipG.setAttribute('clip-path','url(#clip-'+p.id+')');
  
  
  p.series.forEach(function(s){
    if(!s[2])return;
    let d='';
    latitudes.forEach(function(lat,i){
      const v=s[1][i],e=s[2][Math.floor(i/2)],x=xs(lat),y1=ys(v+e),y2=ys(v-e);
      d+='M'+x.toFixed(1)+' '+y1.toFixed(1)+'V'+y2.toFixed(1)+'M'+(x-6.5).toFixed(1)+' '+y1.toFixed(1)+'h13M'+(x-6.5).toFixed(1)+' '+y2.toFixed(1)+'h13';
    });
    const eb=make('path',clipG);
    
    
    eb.setAttribute('d',d);eb.setAttribute('fill','none');eb.setAttribute('stroke',colors[s[0]]);eb.setAttribute('stroke-width','1.3');eb.setAttribute('stroke-opacity','.85');
  });
  p.series.forEach(function(s){
    const pts=latitudes.map(function(lat,i){return xs(lat).toFixed(1)+','+ys(s[1][i]).toFixed(1);}).join(' ');
    const ln=make('polyline',clipG);
    
    
    ln.setAttribute('points',pts);ln.setAttribute('fill','none');ln.setAttribute('stroke',colors[s[0]]);ln.setAttribute('stroke-width',p.lw);ln.setAttribute('stroke-linejoin','round');
    if(p.dot>0&&s[2]){
      let d='';
      latitudes.forEach(function(lat,i){d+='M'+xs(lat).toFixed(1)+' '+ys(s[1][i]).toFixed(1)+'h0';});
      const mk=make('path',clipG);
      
      
      mk.setAttribute('d',d);mk.setAttribute('fill','none');mk.setAttribute('stroke',colors[s[0]]);mk.setAttribute('stroke-width',p.dot*2);mk.setAttribute('stroke-linecap','round');
    }
  });
  const ticks=make('path',g);
  
  
  ticks.setAttribute('d',tickD);ticks.setAttribute('stroke','#111');ticks.setAttribute('stroke-width','1.5');ticks.setAttribute('fill','none');
  const fr=make('rect',g);
  
  
  fr.setAttribute('x',p.left);fr.setAttribute('y',p.top);fr.setAttribute('width',p.right-p.left);fr.setAttribute('height',p.bottom-p.top);fr.setAttribute('fill','none');fr.setAttribute('stroke','#222');fr.setAttribute('stroke-width','1.6');
});
</script>
</body></html>
